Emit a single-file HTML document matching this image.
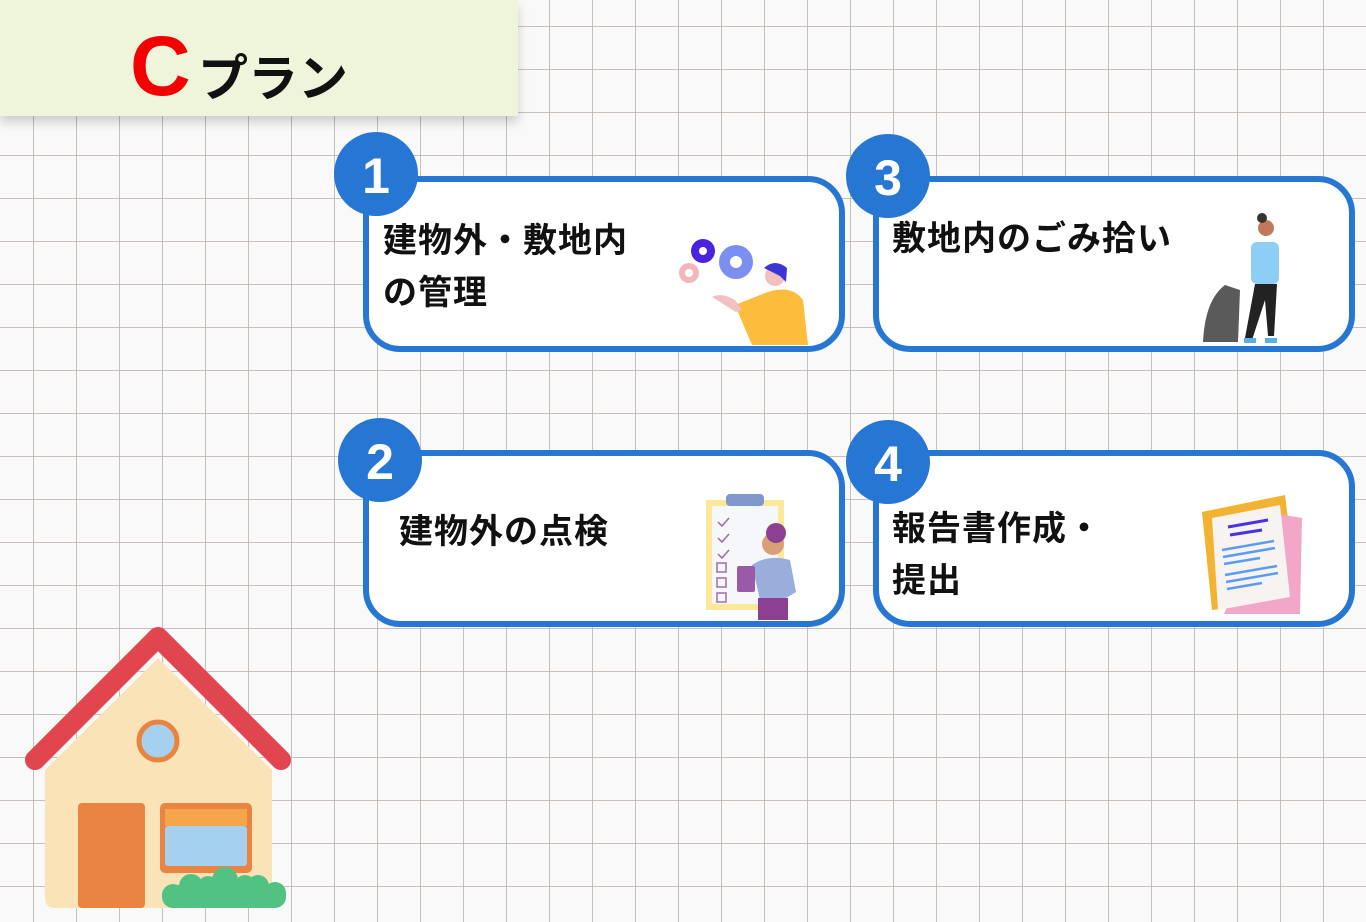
<!DOCTYPE html>
<html><head><meta charset="utf-8"><style>
html,body{margin:0;padding:0;}
body{width:1366px;height:922px;overflow:hidden;background:#f8f8f8;}
svg{display:block;}
text{font-family:"Liberation Sans","Noto Sans CJK JP",sans-serif;font-weight:bold;}
</style></head><body>
<svg width="1366" height="922" viewBox="0 0 1366 922" xmlns="http://www.w3.org/2000/svg">
<defs>
<pattern id="g" x="33" y="26" width="43" height="43" patternUnits="userSpaceOnUse">
<path d="M0 0V43M0 0H43" stroke="#c2b8b4" stroke-width="1.8" fill="none"/>
</pattern>
<filter id="sh" x="-10%" y="-10%" width="120%" height="140%"><feDropShadow dx="0" dy="6" stdDeviation="5" flood-color="#000" flood-opacity="0.18"/></filter>
</defs>
<rect width="1366" height="922" fill="#f9f9f9"/>
<rect width="1366" height="922" fill="url(#g)"/>
<!-- title -->
<rect x="0" y="0" width="518" height="116" fill="#eef5da" filter="url(#sh)"/>
<text x="130" y="95" font-size="84" fill="#f40000">C</text>
<text x="198" y="96" font-size="50" fill="#111">プラン</text>
<!-- cards -->
<g fill="#fff" stroke="#2677d3" stroke-width="6">
<rect x="366" y="179" width="476" height="170" rx="34"/>
<rect x="876" y="179" width="476" height="170" rx="34"/>
<rect x="366" y="453" width="476" height="171" rx="34"/>
<rect x="876" y="453" width="476" height="171" rx="34"/>
</g>
<g fill="#2677d3">
<circle cx="376" cy="174" r="42"/>
<circle cx="888" cy="176" r="42"/>
<circle cx="380" cy="460" r="42"/>
<circle cx="888" cy="462" r="42"/>
</g>
<g fill="#fff" font-size="50" text-anchor="middle">
<text x="376" y="193">1</text>
<text x="888" y="195">3</text>
<text x="380" y="479">2</text>
<text x="888" y="481">4</text>
</g>
<g fill="#111" font-size="34" letter-spacing="1">
<text x="383" y="252">建物外・敷地内</text>
<text x="383" y="304">の管理</text>
<text x="892" y="250">敷地内のごみ拾い</text>
<text x="399" y="543">建物外の点検</text>
<text x="892" y="540">報告書作成・</text>
<text x="892" y="592">提出</text>
</g>
<!-- illustration 1: gears + person -->
<circle cx="703" cy="251" r="12" fill="#4a22e0"/><circle cx="703" cy="251" r="4" fill="#fff"/>
<circle cx="736" cy="262" r="17" fill="#7b8ef2"/><circle cx="736" cy="262" r="6" fill="#fff"/>
<circle cx="689" cy="273" r="10" fill="#f4b6bd"/><circle cx="689" cy="273" r="4" fill="#fff"/>
<path d="M760 295 Q790 282 803 300 L808 345 L752 345 L735 305 Z" fill="#fcbd3d"/>
<path d="M712 297 Q722 292 735 300 L742 310 L736 312 Z" fill="#f3c0c2"/>
<circle cx="775" cy="276" r="10" fill="#f3c0c2"/>
<path d="M764 268 Q775 258 787 268 L786 282 L780 276 Z" fill="#3c35d6"/>
<!-- illustration 3: person with trash bag -->
<path d="M1203 342 Q1205 300 1225 285 L1240 290 L1238 342 Z" fill="#5a5a5a"/>
<rect x="1251" y="242" width="28" height="42" rx="6" fill="#8dcff4"/>
<path d="M1255 284 L1277 284 L1274 336 L1268 336 L1265 300 L1252 340 L1245 338 Z" fill="#222"/>
<circle cx="1266" cy="228" r="8" fill="#c4785b"/>
<circle cx="1262" cy="218" r="5" fill="#333"/>
<path d="M1244 338 h12 v5 h-12z M1265 338 h12 v5 h-12z" fill="#5ab0e0"/>
<!-- illustration 2: clipboard + person -->
<rect x="706" y="500" width="78" height="110" fill="#fce89a"/>
<rect x="712" y="506" width="66" height="98" fill="#f5f7fb"/>
<rect x="726" y="494" width="38" height="12" rx="4" fill="#8097cc"/>
<g stroke="#a36ab0" stroke-width="1.5" fill="none">
<path d="M718 522 l4 4 l7 -8 M718 538 l4 4 l7 -8 M718 554 l4 4 l7 -8"/>
<rect x="717" y="563" width="9" height="9"/><rect x="717" y="578" width="9" height="9"/><rect x="717" y="593" width="9" height="9"/>
</g>
<path d="M752 565 Q768 554 790 560 L796 592 L786 598 L760 600 Z" fill="#9aaedb"/>
<rect x="737" y="566" width="18" height="26" rx="2" fill="#9a5aa8"/>
<rect x="758" y="598" width="30" height="22" fill="#8c3f93"/>
<circle cx="773" cy="544" r="11" fill="#d99f77"/>
<circle cx="776" cy="533" r="10" fill="#8c3f93"/>
<!-- illustration 4: document -->
<path d="M1202 512 L1285 495 L1298 600 L1212 610 Z" fill="#f3b332"/>
<path d="M1266 512 L1302 518 L1300 614 L1224 614 Z" fill="#f3a7c8"/>
<path d="M1212 518 L1280 505 L1290 597 L1218 610 Z" fill="#f6f3f0"/>
<g stroke="#4a32e0" stroke-width="3"><path d="M1228 527 L1268 520 M1230 535 L1262 530"/></g>
<g stroke="#5b9cf3" stroke-width="2.5"><path d="M1222 550 L1274 541 M1223 557 L1275 548 M1224 564 L1260 558 M1225 575 L1277 566 M1226 582 L1278 573 M1227 589 L1262 583"/></g>
<!-- house -->
<path d="M45 770 L158 658 L272 770 L272 898 Q272 908 262 908 L55 908 Q45 908 45 898 Z" fill="#f9e3b7"/>
<path d="M35 760 L158 637 L281 760" fill="none" stroke="#e1454d" stroke-width="20" stroke-linejoin="round" stroke-linecap="round"/>
<circle cx="158" cy="741" r="19" fill="#a5d0ee" stroke="#e9843f" stroke-width="5"/>
<rect x="78" y="803" width="67" height="105" rx="4" fill="#ea8443"/>
<rect x="160" y="803" width="92" height="70" rx="5" fill="#ea8443"/>
<rect x="165" y="809" width="82" height="17" fill="#f5a54a"/>
<rect x="165" y="826" width="82" height="40" rx="3" fill="#a5d0ee"/>
<g fill="#52c283">
<rect x="162" y="885" width="124" height="23" rx="11"/>
<circle cx="191" cy="886" r="12"/><circle cx="208" cy="886" r="10"/><circle cx="225" cy="880" r="13"/><circle cx="245" cy="885" r="10"/><circle cx="258" cy="886" r="11"/><circle cx="275" cy="893" r="11"/><circle cx="173" cy="895" r="11"/>
</g>
</svg>
</body></html>
